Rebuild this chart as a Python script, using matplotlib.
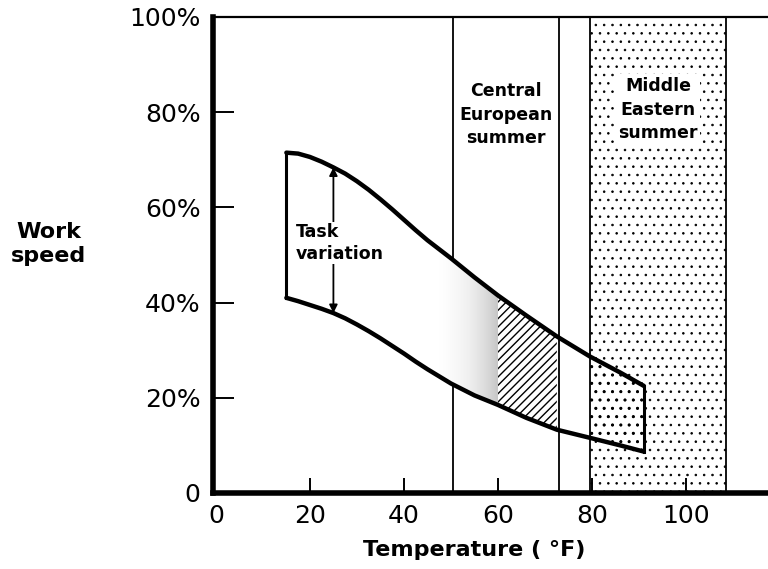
import numpy as np
import matplotlib.pyplot as plt

# values
temp = np.array([15, 17.5, 20, 22.5, 25, 27.5, 30, 32.5, 35, 37.5, 40, 42.5, 45, 47.5, 50,
                 55, 60, 66, 72.5, 79.5, 86, 91])
upper = np.array([71.5, 71.3, 70.6, 69.6, 68.4, 67.1, 65.5, 63.7, 61.7, 59.6, 57.4, 55.2,
                  53.1, 51.2, 49.3, 45.3, 41.5, 37.3, 32.9, 28.7, 25.3, 22.5])
lower = np.array([41.0, 40.3, 39.5, 38.7, 37.8, 36.7, 35.4, 34.0, 32.5, 30.9, 29.3, 27.6,
                  26.0, 24.5, 23.0, 20.5, 18.5, 15.8, 13.3, 11.6, 10.0, 8.7])

central_europe = (50.5, 73.0)
middle_east = (79.5, 108.5)
arrow_temp = 25
x_ticks = [0, 20, 40, 60, 80, 100]
y_ticks = [0, 20, 40, 60, 80, 100]
y_labels = ["0", "20%", "40%", "60%", "80%", "100%"]

plt.rcParams['hatch.linewidth'] = 1.0


def thin_hatch(artist, w):
    # per-artist hatch width where the library supports it
    if hasattr(artist, 'set_hatch_linewidth'):
        artist.set_hatch_linewidth(w)


fig = plt.figure(figsize=(7.68, 5.69), dpi=100)
ax = fig.add_axes([213/768, 1 - 493/569, 1 - 213/768, (493 - 17)/569])
ax.set_xlim(-0.6, 117.4)
ax.set_ylim(0, 100)

# climate bands
ax.axvline(central_europe[0], color='black', lw=1.3, zorder=1)
ax.axvline(central_europe[1], color='black', lw=1.3, zorder=4)
band = ax.axvspan(middle_east[0], middle_east[1], facecolor='white', edgecolor='black',
                  hatch='..', lw=1.3, zorder=1)
thin_hatch(band, 0.6)

# white inside the band so the 50F line is hidden
left_part = temp <= central_europe[1]
ax.fill_between(temp, lower, upper, where=left_part, facecolor='white',
                edgecolor='none', zorder=2)

# stippled fade 45..60
stip = (temp >= 45) & (temp <= 60)
poly = ax.fill_between(temp, lower, upper, where=stip, facecolor='none',
                       edgecolor='none', zorder=3)
grad = np.clip((np.linspace(45, 60, 200) - 47) / 13, 0, 1) ** 1.5
img = ax.imshow(np.tile(grad, (10, 1)), extent=(45, 60, 15, 55), cmap='Greys',
                vmin=0, vmax=3.0, aspect='auto', zorder=3, interpolation='bilinear')
img.set_clip_path(poly.get_paths()[0], transform=ax.transData)

# hatched part 60..73
hat = (temp >= 60) & (temp <= 72.5)
ax.fill_between(temp, lower, upper, where=hat, facecolor='none',
                edgecolor='black', hatch='////', lw=0, zorder=3)

# heavier dots where band sits in the middle-east zone
inner = ax.fill_between(temp, lower, upper, where=temp >= 79.5, facecolor='none',
                        edgecolor='black', hatch='..', lw=0, zorder=3)
thin_hatch(inner, 1.0)

# outline
ax.plot(temp, upper, color='black', lw=3.2, zorder=5, solid_capstyle='round')
ax.plot(temp, lower, color='black', lw=3.2, zorder=5, solid_capstyle='round')
ax.plot([temp[0], temp[0]], [lower[0], upper[0]], color='black', lw=2.2, zorder=5)
ax.plot([temp[-1], temp[-1]], [lower[-1], upper[-1]], color='black', lw=2.2, zorder=5)

# task variation arrow
i = list(temp).index(arrow_temp)
ax.annotate('', xy=(arrow_temp, upper[i]), xytext=(arrow_temp, lower[i]),
            arrowprops=dict(arrowstyle='<|-|>', color='black', lw=1.3,
                            mutation_scale=12, shrinkA=0, shrinkB=0), zorder=6)
ax.text(17.0, 52.5, "Task\nvariation", fontsize=12.5, fontweight='bold',
        ha='left', va='center', linespacing=1.25, zorder=7,
        bbox=dict(facecolor='white', edgecolor='none', pad=1))

ax.text(sum(central_europe)/2, 79.5, "Central\nEuropean\nsummer", fontsize=12.5,
        fontweight='bold', ha='center', va='center', linespacing=1.4, zorder=7)
ax.text(sum(middle_east)/2, 80.5, "Middle\nEastern\nsummer", fontsize=12.5,
        fontweight='bold', ha='center', va='center', linespacing=1.4, zorder=7,
        bbox=dict(facecolor='white', edgecolor='none', pad=2))

# axes styling
ax.spines['right'].set_visible(False)
ax.spines['left'].set_linewidth(4)
ax.spines['bottom'].set_linewidth(4)
ax.spines['top'].set_linewidth(1.6)
for s in ax.spines.values():
    s.set_zorder(8)
ax.set_xticks(x_ticks)
ax.set_yticks(y_ticks)
ax.set_yticklabels(y_labels)
ax.tick_params(axis='y', direction='in', length=15, width=1.4, labelsize=18, pad=9)
ax.tick_params(axis='x', direction='in', length=11, width=1.4, labelsize=18, pad=8)
ax.xaxis.get_major_ticks()[0].tick1line.set_visible(False)
ax.yaxis.get_major_ticks()[0].tick1line.set_visible(False)
ax.yaxis.get_major_ticks()[-1].tick1line.set_visible(False)

fig.text(49/768, 1 - 244/569, "Work\nspeed", fontsize=16, fontweight='bold',
         ha='center', va='center', linespacing=1.2)
fig.text(474/768, 1 - 550/569, "Temperature ( °F)", fontsize=16, fontweight='bold',
         ha='center', va='center')

fig.savefig('out.png', dpi=100)
